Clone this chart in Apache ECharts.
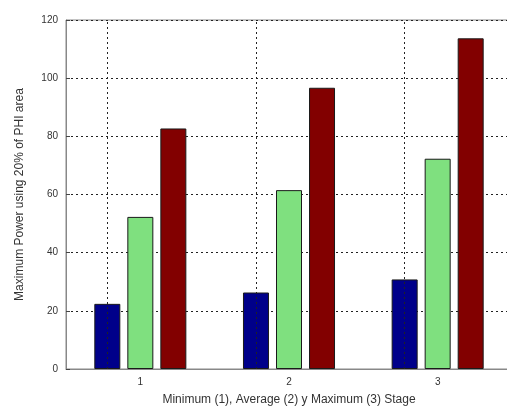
<!DOCTYPE html>
<html>
<head>
<meta charset="utf-8">
<script src="https://cdn.jsdelivr.net/npm/echarts@6/dist/echarts.min.js"></script>
<style>html,body{margin:0;padding:0;background:#fff;}#c{width:507px;height:410px;}</style>
</head>
<body>
<div id="c"></div>
<script>
var categories = ['1', '2', '3'];
var minimumValues = [22.4, 26.3, 30.8];
var averageValues = [52.3, 61.5, 72.3];
var maximumValues = [82.7, 96.7, 113.7];
var yTicks = [0, 20, 40, 60, 80, 100, 120];

var chart = echarts.init(document.getElementById('c'));
var gridLine = { color: '#222', width: 1, type: [2, 3] };
var font = 'Liberation Sans, Arial, sans-serif';
function barSeries(name, data, color, withMark) {
  var s = {
    name: name, type: 'bar', data: data, barWidth: 26, barGap: '27%',
    itemStyle: { color: color, borderColor: '#1a1a1a', borderWidth: 1 },
    silent: true
  };
  if (withMark) {
    s.markLine = {
      silent: true, symbol: 'none', label: { show: false },
      lineStyle: gridLine,
      data: categories.map(function (c) { return { xAxis: c }; })
    };
    s.z = 1;
  }
  return s;
}
chart.setOption({
  animation: false,
  grid: { left: 66, width: 446, top: 20, bottom: 41, show: true, borderColor: '#888', borderWidth: 1,
          outerBoundsMode: 'none', containLabel: false },
  xAxis: {
    type: 'category', data: categories,
    name: 'Minimum (1), Average (2) y Maximum (3) Stage',
    nameLocation: 'middle', nameGap: 25,
    nameTextStyle: { fontFamily: font, fontSize: 12, color: '#333' },
    axisLine: { lineStyle: { color: '#888' } },
    axisTick: { alignWithLabel: true, inside: true, length: 4, lineStyle: { color: '#444' } },
    axisLabel: { fontFamily: font, fontSize: 10, color: '#333', margin: 8 },
    splitLine: { show: false }
  },
  yAxis: {
    type: 'value', min: 0, max: 120, interval: 20,
    name: 'Maximum Power using 20% of PHI area',
    nameLocation: 'middle', nameGap: 40,
    nameTextStyle: { fontFamily: font, fontSize: 12, color: '#333' },
    axisLine: { show: true, lineStyle: { color: '#888' } },
    axisTick: { show: true, inside: true, length: 4, lineStyle: { color: '#444' } },
    axisLabel: { fontFamily: font, fontSize: 10, color: '#333', margin: 8,
      formatter: function (v) { return yTicks.indexOf(v) >= 0 ? String(v) : ''; } },
    splitLine: { show: true, lineStyle: gridLine }
  },
  series: [
    barSeries('Minimum', minimumValues, '#00008a', true),
    barSeries('Average', averageValues, '#7fe07f', false),
    barSeries('Maximum', maximumValues, '#820000', false)
  ]
});
</script>
</body>
</html>
